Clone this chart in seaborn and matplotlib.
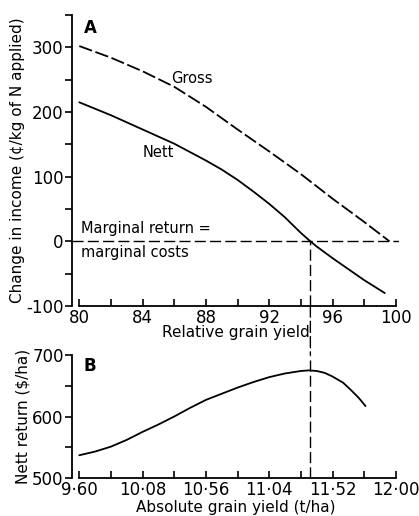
import numpy as np
import pandas as pd
import matplotlib
matplotlib.use("Agg")
import matplotlib.pyplot as plt
from matplotlib.patches import ConnectionPatch
from matplotlib.ticker import FixedLocator
import seaborn as sns

# ---- data ----
gross_x = [80, 82, 84, 86, 88, 90, 92, 94, 96, 98, 99.6]
gross_y = [302, 284, 263, 239, 208, 173, 139, 104, 66, 30, 0]
nett_x = [80, 81, 82, 83, 84, 85, 86, 87, 88, 89, 90, 91, 92, 93, 94,
          94.6, 95, 96, 97, 98, 99.3]
nett_y = [215, 205, 195, 184, 173, 162, 151, 138, 125, 111, 95, 77, 58,
          37, 13, 0, -8, -26, -43, -60, -80]
abs_x = [9.60, 9.72, 9.84, 9.96, 10.08, 10.20, 10.32, 10.44, 10.56, 10.68,
         10.80, 10.92, 11.04, 11.16, 11.28, 11.34, 11.40, 11.46, 11.52, 11.60,
         11.66, 11.72, 11.77]
abs_y = [537, 543, 551, 562, 575, 587, 600, 614, 627, 637,
         647, 656, 664, 670, 674, 675, 674, 671, 665, 655,
         643, 630, 617]
rel_ticks = [80, 84, 88, 92, 96, 100]
abs_ticks = [9.60, 10.08, 10.56, 11.04, 11.52, 12.00]
abs_ticklabels = ["9·60", "10·08", "10·56", "11·04", "11·52", "12·00"]
optimum_rel = 94.6
optimum_abs = 11.352

sns.set_theme(style="ticks")
plt.rcParams['font.family'] = ['DejaVu Sans']
for k in ("text.color", "axes.labelcolor", "xtick.color", "ytick.color",
          "axes.edgecolor"):
    plt.rcParams[k] = "black"
FS = 10.5
TFS = 12

W, H = 419, 516
fig = plt.figure(figsize=(W / 100, H / 100), dpi=100)

def frac(x0, y0, x1, y1):
    return [x0 / W, 1 - y1 / H, (x1 - x0) / W, (y1 - y0) / H]

axA = fig.add_axes(frac(72, 15, 399, 306))
axB = fig.add_axes(frac(72, 355, 399, 478))

df_g = pd.DataFrame({"x": gross_x, "y": gross_y})
df_n = pd.DataFrame({"x": nett_x, "y": nett_y})
df_b = pd.DataFrame({"x": abs_x, "y": abs_y})

lw = 1.3
sns.lineplot(data=df_g, x="x", y="y", ax=axA, color="black", lw=lw, sort=False)
axA.lines[-1].set_dashes([7.5, 2.0])
sns.lineplot(data=df_n, x="x", y="y", ax=axA, color="black", lw=lw, sort=False)
axA.axhline(0, color="black", lw=1.0, dashes=(8, 3))
axA.plot([optimum_rel, optimum_rel], [-100, 0], color="black", lw=1.0,
         dashes=(8, 3))

sns.lineplot(data=df_b, x="x", y="y", ax=axB, color="black", lw=lw, sort=False)
axB.axvline(optimum_abs, color="black", lw=1.0, dashes=(8, 3))

con = ConnectionPatch(xyA=(optimum_rel, -100), coordsA=axA.transData,
                      xyB=(optimum_abs, 700), coordsB=axB.transData,
                      color="black", lw=1.0, linestyle=(0, (8, 3)))
fig.add_artist(con)

# axis A
axA.set_xlim(79.54, 100.2)
axA.set_ylim(-100, 350)
axA.set_xticks(rel_ticks)
axA.set_xticklabels([str(t) for t in rel_ticks])
axA.xaxis.set_minor_locator(FixedLocator([82, 86, 90, 94, 98]))
axA.set_yticks([-100, 0, 100, 200, 300])
axA.set_yticklabels(["-100", "0", "100", "200", "300"])
axA.yaxis.set_minor_locator(FixedLocator([-50, 50, 150, 250, 350]))
axA.set_xlabel("Relative grain yield", fontsize=11, labelpad=-1)
axA.set_ylabel("Change in income (¢/kg of N applied)", fontsize=11, labelpad=1)

# axis B
axB.set_xlim(9.5448, 12.024)
axB.set_ylim(500, 700)
axB.set_xticks(abs_ticks)
axB.set_xticklabels(abs_ticklabels)
axB.xaxis.set_minor_locator(FixedLocator([9.84, 10.32, 10.80, 11.28, 11.76]))
axB.set_yticks([500, 600, 700])
axB.set_yticklabels(["500", "600", "700"])
axB.yaxis.set_minor_locator(FixedLocator([550, 650]))
axB.set_xlabel("Absolute grain yield (t/ha)", fontsize=11, labelpad=1)
axB.set_ylabel("Nett return ($/ha)", fontsize=11, labelpad=1)

for ax, xb in ((axA, (80, 100)), (axB, (9.60, 12.00))):
    ax.spines["top"].set_visible(False)
    ax.spines["right"].set_visible(False)
    ax.spines["left"].set_linewidth(1.3)
    ax.spines["bottom"].set_linewidth(1.3)
    ax.spines["bottom"].set_bounds(*xb)
    ax.tick_params(axis="x", which="both", direction="in", length=5,
                   width=1.2, labelsize=TFS, pad=2, colors="black")
    ax.tick_params(axis="y", which="both", direction="out", length=5,
                   width=1.2, labelsize=TFS, pad=1, colors="black")
    ax.patch.set_alpha(0)

axA.text(0.035, 0.985, "A", transform=axA.transAxes, fontsize=FS + 1.5,
         fontweight="bold", va="top", ha="left")
axB.text(0.035, 0.985, "B", transform=axB.transAxes, fontsize=FS + 1.5,
         fontweight="bold", va="top", ha="left")
axA.text(85.8, 252, "Gross", fontsize=FS, va="center", ha="left")
axA.text(84.0, 137, "Nett", fontsize=FS, va="center", ha="left")
axA.text(80.1, 20, "Marginal return =", fontsize=FS, va="center", ha="left")
axA.text(80.1, -17, "marginal costs", fontsize=FS, va="center", ha="left")

fig.savefig("out.png", dpi=100)
